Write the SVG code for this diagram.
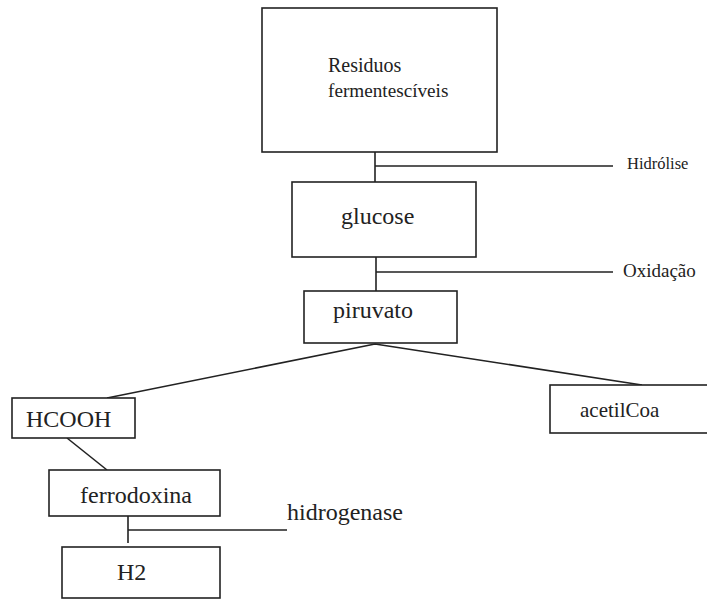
<svg xmlns="http://www.w3.org/2000/svg" width="707" height="599" viewBox="0 0 707 599">
<style>
.box{fill:#fff;stroke:#222;stroke-width:1.6}
.ln{stroke:#222;stroke-width:1.6;fill:none}
text{font-family:'Liberation Serif','DejaVu Serif',serif;fill:#222}
.big{font-size:24px}
</style>
<rect width="707" height="599" fill="#fff"/>
<g id="connectors">
<path class="ln" d="M375 152 V182 M375 166 H613"/>
<path class="ln" d="M376 257 V291 M376 272 H613"/>
<path class="ln" d="M375 344 L107 398 M375 344 L642 385"/>
<path class="ln" d="M67 438 L107 470"/>
<path class="ln" d="M128 516 V543 M128 530 H287"/>
</g>
<g id="residuos">
<rect class="box" x="262" y="8" width="235" height="144"/>
<text x="328" y="72" font-size="20">Residuos</text>
<text x="328" y="97" font-size="19.2">fermentescíveis</text>
</g>
<g id="hidrolise"><text x="627" y="169" font-size="16.5">Hidrólise</text></g>
<g id="glucose">
<rect class="box" x="292" y="182" width="184" height="75"/>
<text class="big" x="341" y="224">glucose</text>
</g>
<g id="oxidacao"><text x="623" y="277" font-size="19">Oxidação</text></g>
<g id="piruvato">
<rect class="box" x="304" y="291" width="153" height="52"/>
<text class="big" x="333" y="318">piruvato</text>
</g>
<g id="hcooh">
<rect class="box" x="12" y="398" width="123" height="40"/>
<text class="big" x="26" y="427">HCOOH</text>
</g>
<g id="acetilcoa">
<rect class="box" x="550" y="385" width="160" height="48"/>
<text x="580" y="417" font-size="21">acetilCoa</text>
</g>
<g id="ferrodoxina">
<rect class="box" x="49" y="470" width="171" height="46"/>
<text class="big" x="80" y="503">ferrodoxina</text>
</g>
<g id="hidrogenase"><text class="big" x="287" y="520">hidrogenase</text></g>
<g id="h2">
<rect class="box" x="62" y="547" width="158" height="51"/>
<text class="big" x="117" y="580">H2</text>
</g>
</svg>
